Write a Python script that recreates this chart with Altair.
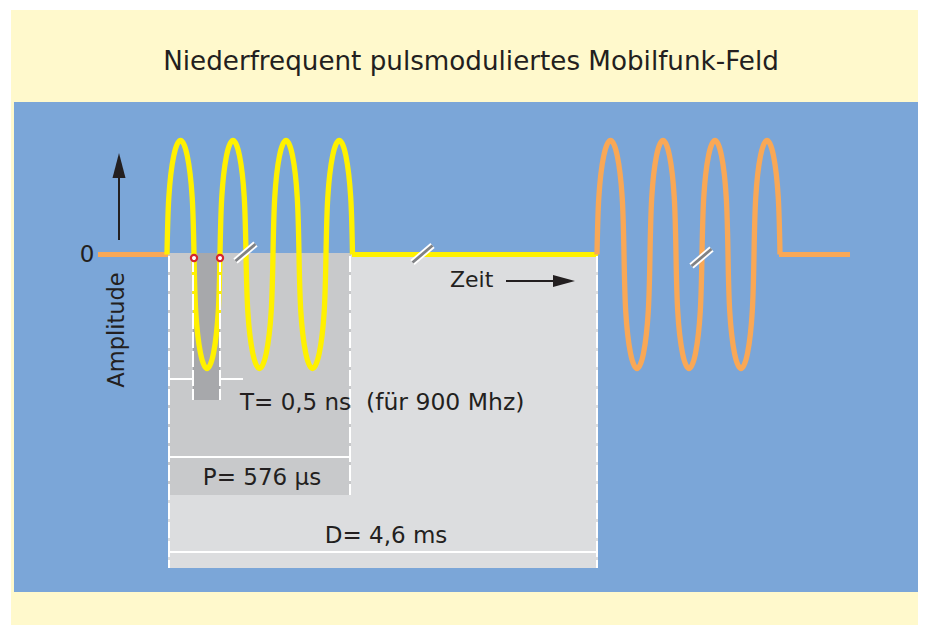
import altair as alt
import pandas as pd

# ---------------- diagram data (drawing coordinates: x to the right, y downward) ----------------
W, H = 910, 617
X_DOM = [8, 918]
Y_DOM = [8, 625]

ORANGE = "#F9A856"
YELLOW = "#FFF100"
INK = "#231F20"

# background panels and the three gray time boxes (D, P, T)
panel_name = ["frame", "field", "D", "P", "T"]
panel_x0 = [11, 14, 168, 168, 193]
panel_x1 = [918, 918, 598, 351, 220]
panel_y0 = [10, 102, 253, 253, 253]
panel_y1 = [625, 592, 568, 495, 400]
panel_fill = ["#FFF9CC", "#7BA6D8", "#DCDDDF", "#C8C9CB", "#A7A8AB"]

# white solid separator lines
sep_x0 = [170, 170, 170, 220]
sep_x1 = [350, 597, 193, 243]
sep_y = [457, 552, 379, 379]

# white dashed box edges
dash_x = [169, 193, 220, 350, 597]
dash_y0 = [256, 256, 256, 256, 256]
dash_y1 = [568, 400, 400, 495, 568]

# zero line of the field
ZERO_Y = 254.5
AMP = 114
flat_x0 = [98, 352, 779]
flat_x1 = [168, 598, 850]
flat_color = [ORANGE, YELLOW, ORANGE]

# carrier oscillation: zero crossings (half-loops alternate up / down)
yellow_cross = [167, 194, 220, 246, 273, 299, 326, 352.5]
orange_cross = [597, 624, 650, 676, 702, 728, 754, 780]
# profile of one half-loop:
# position across the half period (0..1) and height as a fraction of the amplitude
loop_u = [0.0, 0.067, 0.25, 0.5, 0.75, 0.933, 1.0]
loop_h = [0.0, 0.5, 0.866, 1.0, 0.866, 0.5, 0.0]

# period markers (red rings on the zero line)
ring_x = [194, 220]
ring_y = [258, 258]

# break marks "//"
brk_x = [245.5, 422.5, 701.5]
brk_y = [252.5, 254, 257.5]

# arrows
arrow_x0 = [119, 506]
arrow_y0 = [240, 281]
arrow_x1 = [119, 556]
arrow_y1 = [170, 281]
head_x = [119, 564]
head_y = [165.5, 281]
head_shape = ["M0,-1L0.52,1L-0.52,1Z", "M1,0L-1,-0.55L-1,0.55Z"]
head_size = [625, 484]

# texts
ctext = ["Niederfrequent pulsmoduliertes Mobilfunk-Feld", "0", "P= 576 µs", "D= 4,6 ms"]
ctext_x = [471, 87, 262, 386]
ctext_y = [70, 262, 485, 543]
ctext_fs = [26.2, 23, 23, 23]

ltext = ["Zeit", "T= 0,5 ns", "(für 900 Mhz)"]
ltext_x = [450, 240, 366]
ltext_y = [287, 410, 410]
ltext_fs = [22, 23, 23.5]

vtext = ["Amplitude"]
vtext_x = [124]
vtext_y = [330]

# ---------------- build chart ----------------
xs = alt.Scale(domain=X_DOM, nice=False, zero=False)
ys = alt.Scale(domain=Y_DOM, nice=False, zero=False, reverse=True)


def X(f):
    return alt.X(f"{f}:Q", scale=xs, axis=None)


def Y(f):
    return alt.Y(f"{f}:Q", scale=ys, axis=None)


panels = pd.DataFrame({"name": panel_name, "x0": panel_x0, "x1": panel_x1,
                       "y0": panel_y0, "y1": panel_y1, "fill": panel_fill})
rect_layer = alt.Chart(panels).mark_rect().encode(
    x=X("x0"), x2="x1:Q", y=Y("y0"), y2="y1:Q",
    color=alt.Color("fill:N", scale=None))

seps = pd.DataFrame({"x0": sep_x0, "x1": sep_x1, "y": sep_y})
sep_layer = alt.Chart(seps).mark_rule(color="white", strokeWidth=2).encode(
    x=X("x0"), x2="x1:Q", y=Y("y"))

dashes = pd.DataFrame({"x": dash_x, "y0": dash_y0, "y1": dash_y1})
dash_layer = alt.Chart(dashes).mark_rule(color="white", strokeWidth=2, strokeDash=[16, 3]).encode(
    x=X("x"), y=Y("y0"), y2="y1:Q")

flats = pd.DataFrame({"x0": flat_x0, "x1": flat_x1, "y": [ZERO_Y] * len(flat_x0), "c": flat_color})
flat_layer = alt.Chart(flats).mark_rule(strokeWidth=5).encode(
    x=X("x0"), x2="x1:Q", y=Y("y"), color=alt.Color("c:N", scale=None))

wave_rows = []
for seg, cross, col in [("yellow", yellow_cross, YELLOW), ("orange", orange_cross, ORANGE)]:
    i = 0
    for k in range(len(cross) - 1):
        sign = 1 if k % 2 == 0 else -1
        a, b = cross[k], cross[k + 1]
        for j, (u, h) in enumerate(zip(loop_u, loop_h)):
            if k > 0 and j == 0:
                continue
            wave_rows.append({"seg": seg, "i": i, "x": a + (b - a) * u,
                              "y": ZERO_Y - sign * AMP * h, "c": col})
            i += 1
waves = pd.DataFrame(wave_rows)
wave_layer = alt.Chart(waves).mark_line(interpolate="natural", strokeWidth=5.3, strokeJoin="round").encode(
    x=X("x"), y=Y("y"), detail="seg:N", order="i:Q", color=alt.Color("c:N", scale=None))

rings = pd.DataFrame({"x": ring_x, "y": ring_y})
ring_layer = alt.Chart(rings).mark_point(shape="circle", filled=True, fill="white", stroke="#D7262E",
                                         strokeWidth=2.2, size=38, opacity=1).encode(x=X("x"), y=Y("y"))

brks = pd.DataFrame({"x": brk_x, "y": brk_y})
brks["xa"] = brks["x"] - 10
brks["xb"] = brks["x"] + 10
brks["ya"] = brks["y"] + 8.5
brks["yb"] = brks["y"] - 8.5
brk_white = alt.Chart(brks).mark_rule(color="white", strokeWidth=6.5).encode(
    x=X("xa"), x2="xb:Q", y=Y("ya"), y2="yb:Q")
brk_gray = alt.Chart(brks).mark_rule(color="#808285", strokeWidth=2.8).encode(
    x=X("xa"), x2="xb:Q", y=Y("ya"), y2="yb:Q")

arrows = pd.DataFrame({"x0": arrow_x0, "y0": arrow_y0, "x1": arrow_x1, "y1": arrow_y1})
arrow_layer = alt.Chart(arrows).mark_rule(color=INK, strokeWidth=2).encode(
    x=X("x0"), x2="x1:Q", y=Y("y0"), y2="y1:Q")

heads = pd.DataFrame({"x": head_x, "y": head_y, "shape": head_shape, "size": head_size})
head_layer = alt.Chart(heads).mark_point(filled=True, color=INK, opacity=1, strokeWidth=0).encode(
    x=X("x"), y=Y("y"),
    shape=alt.Shape("shape:N", scale=None),
    size=alt.Size("size:Q", scale=None))

ct = pd.DataFrame({"t": ctext, "x": ctext_x, "y": ctext_y, "fs": ctext_fs})
ctext_layer = alt.Chart(ct).mark_text(font="DejaVu Sans", align="center", baseline="alphabetic",
                                      color=INK).encode(
    x=X("x"), y=Y("y"), text="t:N", size=alt.Size("fs:Q", scale=None))

lt = pd.DataFrame({"t": ltext, "x": ltext_x, "y": ltext_y, "fs": ltext_fs})
ltext_layer = alt.Chart(lt).mark_text(font="DejaVu Sans", align="left", baseline="alphabetic",
                                      color=INK).encode(
    x=X("x"), y=Y("y"), text="t:N", size=alt.Size("fs:Q", scale=None))

vt = pd.DataFrame({"t": vtext, "x": vtext_x, "y": vtext_y})
vtext_layer = alt.Chart(vt).mark_text(font="DejaVu Sans", align="center", baseline="alphabetic",
                                      angle=270, fontSize=22.5, color=INK).encode(
    x=X("x"), y=Y("y"), text="t:N")

chart = alt.layer(
    rect_layer, sep_layer, flat_layer, wave_layer, dash_layer, ring_layer,
    brk_white, brk_gray, arrow_layer, head_layer, ctext_layer, ltext_layer, vtext_layer
).properties(
    width=W, height=H, padding=0, autosize=alt.AutoSizeParams(type="none")
).configure_view(strokeWidth=0)

chart.save("out.html", embed_options={"renderer": "svg", "actions": False})
